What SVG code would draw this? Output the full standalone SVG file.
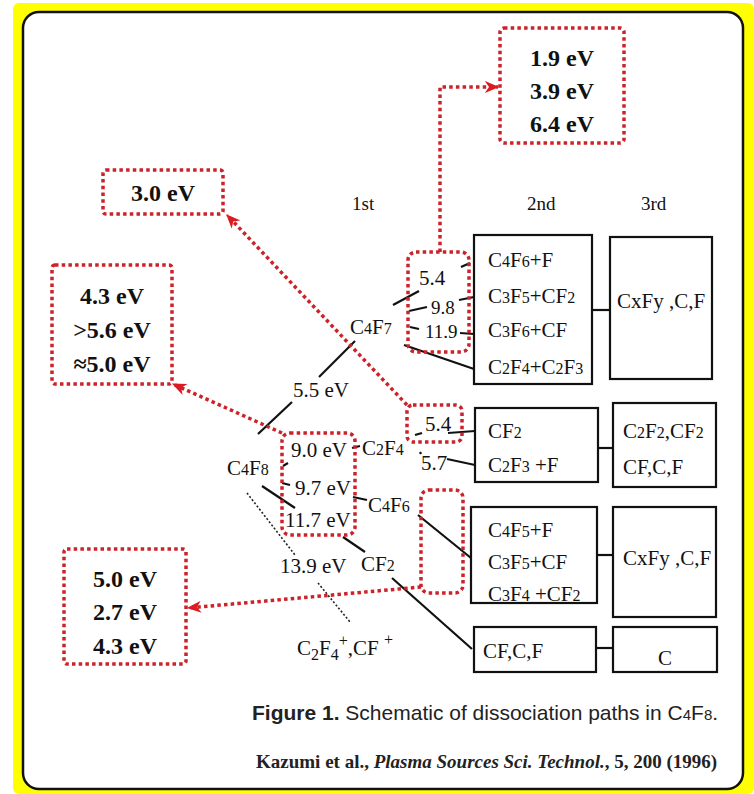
<svg xmlns="http://www.w3.org/2000/svg" width="754" height="794" viewBox="0 0 754 794">
<style>
.t{font-family:"Liberation Serif","Times New Roman",serif;font-size:21px;fill:#111}
.s{font-size:16px}
.n{font-size:19px}
.b{font-family:"Liberation Serif","Times New Roman",serif;font-size:24px;font-weight:bold;fill:#111;text-anchor:middle}
.box{fill:#fff;stroke:#111;stroke-width:2.2}
.ln{stroke:#111;stroke-width:2.2;fill:none}
.dl{stroke:#222;stroke-width:1.6;stroke-dasharray:2 2;fill:none}
.rb{fill:none;stroke:#cc2229;stroke-width:3.5;stroke-dasharray:3.5 3.2}
.rl{fill:none;stroke:#cc2229;stroke-width:3.5;stroke-dasharray:3.5 3.2}
.cap{font-family:"Liberation Sans",Arial,sans-serif;font-size:21px;fill:#222}
.ref{font-family:"Liberation Serif","Times New Roman",serif;font-size:19px;font-weight:bold;fill:#222}
</style>
<defs>
<marker id="ra" viewBox="0 0 12 10" refX="11" refY="5" markerWidth="15" markerHeight="12" markerUnits="userSpaceOnUse" orient="auto">
<path d="M0,0 L12,5 L0,10 L3.5,5 Z" fill="#dd1a22"/>
</marker>
</defs>
<rect x="13" y="3" width="741" height="791" rx="6" fill="#ffff00"/>
<rect x="23" y="12" width="720" height="777" rx="16" fill="#fff" stroke="#111" stroke-width="2.5"/>

<g id="headers">
<text class="t" x="352" y="210" style="font-size:19px">1st</text>
<text class="t" x="527" y="210" style="font-size:19px">2nd</text>
<text class="t" x="641" y="210" style="font-size:19px">3rd</text>
</g>

<g id="box-A">
<rect class="box" x="474" y="235" width="118" height="149"/>
<text class="t" x="488" y="267">C<tspan class="s">4</tspan>F<tspan class="s">6</tspan>+F</text>
<text class="t" x="488" y="303">C<tspan class="s">3</tspan>F<tspan class="s">5</tspan>+CF<tspan class="s">2</tspan></text>
<text class="t" x="488" y="337">C<tspan class="s">3</tspan>F<tspan class="s">6</tspan>+CF</text>
<text class="t" x="488" y="374">C<tspan class="s">2</tspan>F<tspan class="s">4</tspan>+C<tspan class="s">2</tspan>F<tspan class="s">3</tspan></text>
</g>
<g id="box-A3">
<rect class="box" x="610" y="237" width="102" height="142"/>
<text class="t" x="617" y="308">CxFy ,C,F</text>
</g>
<g id="box-B">
<rect class="box" x="475" y="408" width="123" height="74"/>
<text class="t" x="488" y="438">CF<tspan class="s">2</tspan></text>
<text class="t" x="488" y="472">C<tspan class="s">2</tspan>F<tspan class="s">3</tspan> +F</text>
</g>
<g id="box-B3">
<rect class="box" x="613" y="403" width="103" height="84"/>
<text class="t" x="623" y="438">C<tspan class="s">2</tspan>F<tspan class="s">2</tspan>,CF<tspan class="s">2</tspan></text>
<text class="t" x="623" y="474">CF,C,F</text>
</g>
<g id="box-C">
<rect class="box" x="471" y="507" width="126" height="96"/>
<text class="t" x="488" y="537">C<tspan class="s">4</tspan>F<tspan class="s">5</tspan>+F</text>
<text class="t" x="488" y="569">C<tspan class="s">3</tspan>F<tspan class="s">5</tspan>+CF</text>
<text class="t" x="488" y="601">C<tspan class="s">3</tspan>F<tspan class="s">4</tspan> +CF<tspan class="s">2</tspan></text>
</g>
<g id="box-C3">
<rect class="box" x="613" y="507" width="103" height="110"/>
<text class="t" x="623" y="565">CxFy ,C,F</text>
</g>
<g id="box-D">
<rect class="box" x="474" y="627" width="122" height="45"/>
<text class="t" x="483" y="658">CF,C,F</text>
</g>
<g id="box-D3">
<rect class="box" x="613" y="627" width="104" height="45"/>
<text class="t" x="658" y="665">C</text>
</g>

<g id="labels">
<text class="t" x="350" y="334">C<tspan class="s">4</tspan>F<tspan class="s">7</tspan></text>
<text class="t" x="293" y="397">5.5 eV</text>
<text class="t" x="227" y="475">C<tspan class="s">4</tspan>F<tspan class="s">8</tspan></text>
<text class="t" x="291" y="457">9.0 eV</text>
<text class="t" x="362" y="455">C<tspan class="s">2</tspan>F<tspan class="s">4</tspan></text>
<text class="t" x="295" y="495">9.7 eV</text>
<text class="t" x="368" y="512">C<tspan class="s">4</tspan>F<tspan class="s">6</tspan></text>
<text class="t" x="285" y="527">11.7 eV</text>
<text class="t" x="280" y="573">13.9 eV</text>
<text class="t" x="361" y="571">CF<tspan class="s">2</tspan></text>
<text class="t" x="297" y="655">C<tspan class="s" dy="5">2</tspan><tspan dy="-5">F</tspan><tspan class="s" dy="5">4</tspan><tspan class="s" dy="-14">+</tspan><tspan dy="9">,CF </tspan><tspan class="s" dy="-10">+</tspan></text>
<text class="t" x="419" y="285">5.4</text>
<text class="t n" x="431" y="314">9.8</text>
<text class="t n" x="425" y="338">11.9</text>
<text class="t" x="425" y="431">5.4</text>
<text class="t" x="421" y="470">5.7</text>
</g>

<g id="connectors">
<line class="ln" x1="592" y1="310" x2="610" y2="310"/>
<line class="ln" x1="598" y1="448" x2="613" y2="448"/>
<line class="ln" x1="597" y1="555" x2="613" y2="555"/>
<line class="ln" x1="596" y1="648" x2="613" y2="648"/>
<line class="ln" x1="258" y1="434" x2="292" y2="402"/>
<line class="ln" x1="319" y1="377" x2="355" y2="341"/>
<line class="ln" x1="393" y1="305" x2="419" y2="291"/>
<line class="ln" x1="461" y1="267" x2="470" y2="263"/>
<line class="ln" x1="409" y1="311" x2="427" y2="307"/>
<line class="ln" x1="459" y1="300" x2="474" y2="297"/>
<line class="ln" x1="410" y1="327" x2="419" y2="329"/>
<line class="ln" x1="460" y1="333" x2="474" y2="334"/>
<line class="ln" x1="404" y1="345" x2="474" y2="369"/>
<line class="ln" x1="283" y1="466" x2="288" y2="463"/>
<line class="ln" x1="352" y1="448" x2="360" y2="446"/>
<line class="ln" x1="282" y1="483" x2="290" y2="485"/>
<line class="ln" x1="353" y1="497" x2="367" y2="500"/>
<line class="ln" x1="262" y1="486" x2="295" y2="508"/>
<line class="ln" x1="343" y1="537" x2="365" y2="552"/>
<line class="dl" x1="247" y1="493" x2="295" y2="555"/>
<line class="dl" x1="318" y1="583" x2="350" y2="622"/>
<line class="ln" x1="415" y1="435" x2="422" y2="433"/>
<line class="ln" x1="448" y1="433" x2="475" y2="431"/>
<line class="ln" x1="420" y1="452" x2="421" y2="454"/>
<line class="ln" x1="447" y1="459" x2="475" y2="465"/>
<line class="ln" x1="418" y1="515" x2="471" y2="558"/>
<line class="ln" x1="392" y1="578" x2="472" y2="649"/>
</g>

<g id="red-boxes">
<rect class="rb" x="408" y="252" width="61" height="100" rx="8"/>
<rect class="rb" x="407" y="405" width="55" height="37" rx="6"/>
<rect class="rb" x="282" y="433" width="73" height="102" rx="8"/>
<rect class="rb" x="421" y="490" width="42" height="103" rx="8"/>
</g>

<g id="callout-1">
<rect class="rb" x="500" y="28" width="124" height="115" rx="4"/>
<text class="b" x="562" y="66">1.9 eV</text>
<text class="b" x="562" y="99">3.9 eV</text>
<text class="b" x="562" y="132">6.4 eV</text>
</g>
<g id="callout-2">
<rect class="rb" x="103" y="170" width="120" height="44" rx="3"/>
<text class="b" x="163" y="201">3.0 eV</text>
</g>
<g id="callout-3">
<rect class="rb" x="52" y="265" width="120" height="119" rx="3"/>
<text class="b" x="112" y="304">4.3 eV</text>
<text class="b" x="112" y="338">&gt;5.6 eV</text>
<text class="b" x="112" y="372">≈5.0 eV</text>
</g>
<g id="callout-4">
<rect class="rb" x="64" y="549" width="122" height="115" rx="3"/>
<text class="b" x="125" y="587">5.0 eV</text>
<text class="b" x="125" y="620">2.7 eV</text>
<text class="b" x="125" y="654">4.3 eV</text>
</g>

<g id="red-arrows">
<path class="rl" d="M440,252 L440,87 L498,87" marker-end="url(#ra)"/>
<path class="rl" d="M407,405 L227,215" marker-end="url(#ra)"/>
<path class="rl" d="M282,433 L173,384" marker-end="url(#ra)"/>
<path class="rl" d="M421,587 L188,608" marker-end="url(#ra)"/>
</g>

<text class="cap" x="252" y="720"><tspan font-weight="bold">Figure 1.</tspan> Schematic of dissociation paths in C<tspan font-size="15">4</tspan>F<tspan font-size="15">8</tspan>.</text>
<text class="ref" x="256" y="768">Kazumi et al., <tspan font-style="italic">Plasma Sources Sci. Technol.</tspan>, 5, 200 (1996)</text>
</svg>
